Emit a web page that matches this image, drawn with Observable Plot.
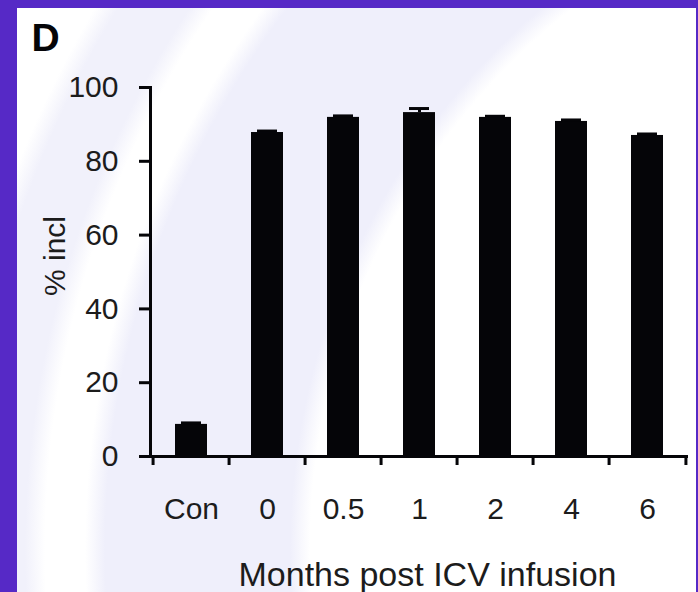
<!DOCTYPE html>
<html><head><meta charset="utf-8">
<script src="https://cdn.jsdelivr.net/npm/d3@7"></script>
<script src="https://cdn.jsdelivr.net/npm/@observablehq/plot@0.6"></script>
<style>
html,body{margin:0;padding:0;}
body{width:698px;height:592px;background:#5629c6;position:relative;overflow:hidden;font-family:"Liberation Sans",Arial,sans-serif;}
#panel{position:absolute;left:17px;top:8px;width:679px;height:600px;background:radial-gradient(circle at 983px 542px, #fff 0 690px, #efeffb 710px 895px, #fff 915px 955px, #f1f1fb 975px 1035px, #fff 1055px);}
#chart{position:absolute;left:0;top:0;}
</style></head><body><div id="panel"></div><div id="chart"></div>
<script>
const categories = ["Con", "0", "0.5", "1", "2", "4", "6"];
const means = [8.7, 87.8, 91.9, 93.2, 91.9, 90.8, 87.0];
const errors = [0.4, 0.4, 0.4, 1.1, 0.3, 0.4, 0.4];
const yTicks = [0, 20, 40, 60, 80, 100];
const yLabel = "% incl";
const xLabel = "Months post ICV infusion";
const panelLabel = "D";

const data = categories.map((c, i) => ({cat: c, mean: means[i], hi: means[i] + errors[i]}));
const W = 698, H = 592, mL = 150, mR = 10, mT = 87, mB = 136;
const step = (W - mL - mR) / categories.length;
const ink = "#050508";
const txt = "#1c1c1c";

const plot = Plot.plot({
  width: W, height: H,
  marginLeft: mL, marginRight: mR, marginTop: mT, marginBottom: mB,
  style: {background: "transparent", color: ink, fontFamily: '"Liberation Sans", Arial, sans-serif', overflow: "visible"},
  x: {domain: categories, type: "band", paddingInner: 0.584, paddingOuter: 0.292},
  y: {domain: [0, 100]},
  marks: [
    Plot.barY(data, {x: "cat", y: "mean", fill: ink}),
    Plot.ruleX(data, {x: "cat", y1: "mean", y2: "hi", stroke: ink, strokeWidth: 3}),
    Plot.tickY(data, {x: "cat", y: "hi", stroke: ink, strokeWidth: 3, insetLeft: 6, insetRight: 6}),
    Plot.ruleY([0], {stroke: ink, strokeWidth: 3}),
    Plot.frame({anchor: "left", stroke: ink, strokeWidth: 3}),
    Plot.ruleX(categories, {x: d => d, y1: 0, y2: 0, dx: -step / 2, insetBottom: -9, stroke: ink, strokeWidth: 3}),
    Plot.ruleX([categories[categories.length - 1]], {x: d => d, y1: 0, y2: 0, dx: step / 2, insetBottom: -9, stroke: ink, strokeWidth: 3}),
    Plot.axisY({ticks: yTicks, tickSize: 11, tickPadding: 21, fontSize: 30, strokeWidth: 3, label: null, fill: txt}),
    Plot.axisX({tickSize: 0, tickPadding: 41, fontSize: 30, label: null, fill: txt}),
    Plot.text([yLabel], {frameAnchor: "left", textAnchor: "middle", lineAnchor: "middle", rotate: -90, dx: -95, dy: -16, fontSize: 30, fill: txt}),
    Plot.text([xLabel], {frameAnchor: "bottom", textAnchor: "middle", lineAnchor: "middle", dx: 8, dy: 119, fontSize: 34, fill: txt}),
    Plot.text([panelLabel], {frameAnchor: "top-left", textAnchor: "start", lineAnchor: "top", dx: -119, dy: -64, fontSize: 39, fontWeight: "bold", fill: ink})
  ]
});
document.getElementById("chart").appendChild(plot);
</script></body></html>
